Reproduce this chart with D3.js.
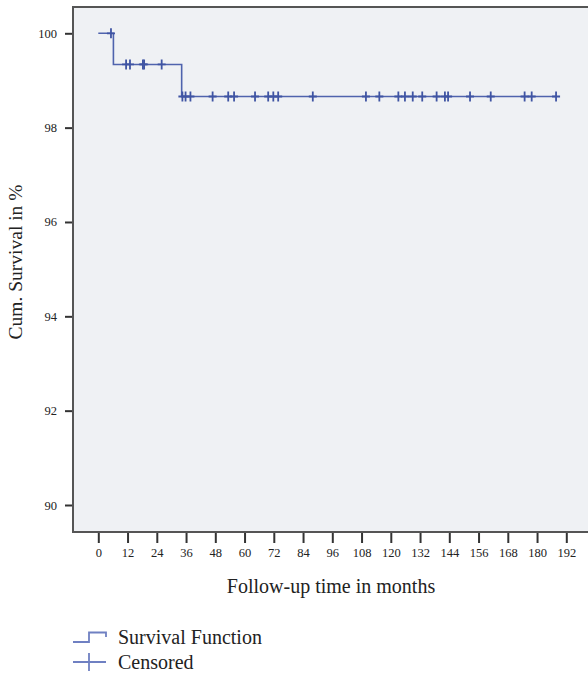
<!DOCTYPE html>
<html>
<head>
<meta charset="utf-8">
<script src="https://cdn.jsdelivr.net/npm/d3@7"></script>
<style>
  html, body { margin: 0; padding: 0; background: #fff; }
  svg { display: block; }
  text { font-family: "Liberation Serif", "DejaVu Serif", serif; fill: #222; }
</style>
</head>
<body>
<svg id="chart" width="588" height="673"></svg>
<script>
// step function: survival (%) after each event
const eventMonths = [6.2, 34.2];
const survAfter = [99.34, 98.66];
const startSurv = 100;
const lastFollowUp = 187.8;

// censored observations (months)
const censoredMonths = [5.2, 11.4, 13.0, 18.3, 18.8, 26.0,
  34.5, 35.8, 37.8, 46.9, 53.3, 55.7, 64.3, 69.7, 71.8, 73.8,
  88.0, 109.8, 115.3, 123.1, 125.8, 129.0, 132.9, 138.8, 142.2, 143.5,
  152.5, 161.0, 174.9, 177.8, 187.8];

const xTicks = d3.range(0, 193, 12);
const yTicks = [90, 92, 94, 96, 98, 100];

const svg = d3.select("#chart");
const plotL = 73, plotR = 590, plotT = 7, plotB = 532;

const x = d3.scaleLinear().domain([0, 192]).range([98.3, 566.3]);
const y = d3.scaleLinear().domain([90, 100]).range([505, 33.3]);

function survAt(t) {
  let s = startSurv;
  eventMonths.forEach((e, i) => { if (t >= e) s = survAfter[i]; });
  return s;
}

// plot background
svg.append("rect")
  .attr("x", plotL).attr("y", plotT)
  .attr("width", plotR - plotL).attr("height", plotB - plotT)
  .attr("fill", "#eff1f4");

// axes
const xAxis = svg.append("g")
  .attr("transform", `translate(0,${plotB})`)
  .call(d3.axisBottom(x).tickValues(xTicks).tickSize(11).tickPadding(5));
const yAxis = svg.append("g")
  .attr("transform", `translate(${plotL},0)`)
  .call(d3.axisLeft(y).tickValues(yTicks).tickSize(8).tickPadding(8));

[xAxis, yAxis].forEach(g => {
  g.select(".domain").remove();
  g.selectAll(".tick line").attr("stroke", "#333").attr("stroke-width", 2);
  g.selectAll(".tick text")
    .style("font-family", '"Liberation Serif", serif')
    .style("font-size", "12.5px").attr("fill", "#333");
});

// frame
const frame = d3.path();
frame.moveTo(plotR, plotT); frame.lineTo(plotL, plotT);
frame.lineTo(plotL, plotB); frame.lineTo(plotR, plotB);
svg.append("path").attr("d", frame.toString())
  .attr("fill", "none").attr("stroke", "#555").attr("stroke-width", 2);

// survival step curve
const stepPts = [[0, startSurv]]
  .concat(eventMonths.map((e, i) => [e, survAfter[i]]))
  .concat([[lastFollowUp, survAfter[survAfter.length - 1]]]);

svg.append("path")
  .datum(stepPts)
  .attr("fill", "none")
  .attr("stroke", "#4f63ad")
  .attr("stroke-width", 1.6)
  .attr("d", d3.line().x(d => x(d[0])).y(d => y(d[1])).curve(d3.curveStepAfter));

// censor marks
svg.append("g").selectAll("path")
  .data(censoredMonths)
  .join("path")
  .attr("d", t => {
    const cx = x(t), cy = y(survAt(t));
    return `M${cx - 4},${cy}H${cx + 4}M${cx},${cy - 5}V${cy + 5}`;
  })
  .attr("stroke", "#3f54a3")
  .attr("stroke-width", 1.8)
  .attr("fill", "none");

// axis titles
svg.append("text")
  .attr("transform", "translate(22,262) rotate(-90)")
  .attr("text-anchor", "middle")
  .style("font-size", "19.5px")
  .text("Cum. Survival in %");

svg.append("text")
  .attr("x", 331).attr("y", 593)
  .attr("text-anchor", "middle")
  .style("font-size", "20px")
  .text("Follow-up time in months");

// legend
const lg = svg.append("g");
lg.append("path")
  .attr("d", "M73,642H89V632.5H106V637")
  .attr("fill", "none").attr("stroke", "#6f80c2").attr("stroke-width", 1.8);
lg.append("path")
  .attr("d", "M73,662H106M89,653V671")
  .attr("fill", "none").attr("stroke", "#6f80c2").attr("stroke-width", 1.8);
lg.append("text").attr("x", 118).attr("y", 644)
  .style("font-size", "20px").text("Survival Function");
lg.append("text").attr("x", 118).attr("y", 669)
  .style("font-size", "20px").text("Censored");
</script>
</body>
</html>
